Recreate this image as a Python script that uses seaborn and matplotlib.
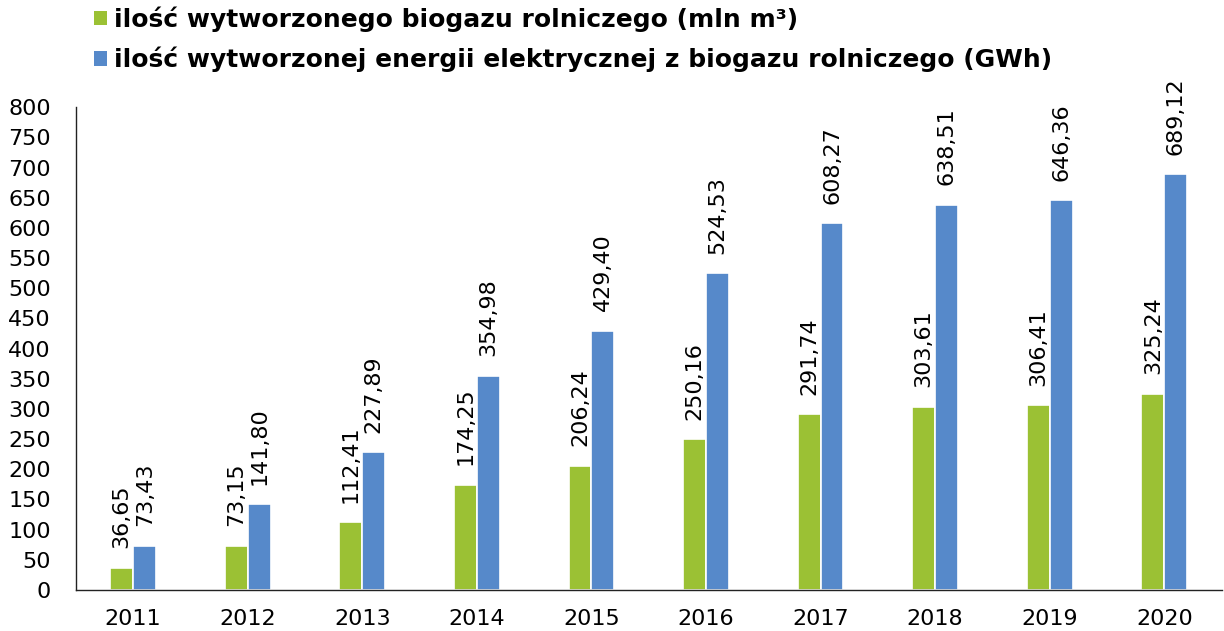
import matplotlib
matplotlib.use("Agg")
import matplotlib.pyplot as plt
from matplotlib.patches import Patch
import seaborn as sns
import pandas as pd
import numpy as np

# ---------------------------------------------------------
# Data
# ---------------------------------------------------------
years = ["2011", "2012", "2013", "2014", "2015", "2016", "2017", "2018", "2019", "2020"]
biogas_mln_m3 = [36.65, 73.15, 112.41, 174.25, 206.24, 250.16, 291.74, 303.61, 306.41, 325.24]
energy_gwh = [73.43, 141.80, 227.89, 354.98, 429.40, 524.53, 608.27, 638.51, 646.36, 689.12]

series_names = [
    "ilość wytworzonego biogazu rolniczego (mln m³)",
    "ilość wytworzonej energii elektrycznej z biogazu rolniczego (GWh)",
]
colors = ["#9BC134", "#5689CA"]

df = pd.DataFrame({
    "year": years * 2,
    "value": biogas_mln_m3 + energy_gwh,
    "series": [series_names[0]] * len(years) + [series_names[1]] * len(years),
})

# ---------------------------------------------------------
# Figure
# ---------------------------------------------------------
sns.set_style("white")
plt.rcParams["font.family"] = ["DejaVu Sans"]
plt.rcParams["text.color"] = "black"
plt.rcParams["xtick.color"] = "black"
plt.rcParams["ytick.color"] = "black"

fig = plt.figure(figsize=(12.24, 6.31), dpi=100)
ax = fig.add_axes([0.062, 0.065, 0.936, 0.765])

sns.barplot(
    data=df, x="year", y="value", hue="series",
    palette=colors, saturation=1, width=0.4, edgecolor="white", linewidth=1.2,
    legend=False, ax=ax,
)

# value labels, rotated, decimal comma
for container in ax.containers:
    for bar in container:
        h = bar.get_height()
        ax.annotate(
            f"{h:.2f}".replace(".", ","),
            xy=(bar.get_x() + bar.get_width() / 2, h),
            xytext=(0, 14), textcoords="offset points",
            rotation=90, ha="center", va="bottom", fontsize=16,
        )

ax.set_ylim(0, 800)
ax.set_xlim(-0.5, len(years) - 0.5)
ax.set_yticks(np.arange(0, 801, 50))
ax.set_xlabel("")
ax.set_ylabel("")

# x ticks between categories
ax.set_xticks(np.arange(len(years)), minor=False)
ax.set_xticks(np.arange(len(years) + 1) - 0.5, minor=True)
ax.tick_params(axis="x", which="major", length=0, labelsize=16, pad=14)
ax.tick_params(axis="x", which="minor", length=6, width=1, direction="out", color="#404040")
ax.tick_params(axis="y", which="major", length=7, width=1, direction="out", color="#8C8C8C",
               labelsize=16, pad=11)

sns.despine(ax=ax, top=True, right=True)
for side in ["left", "bottom"]:
    ax.spines[side].set_color("#222222")
    ax.spines[side].set_linewidth(1)

# legend
handles = [Patch(facecolor=c, edgecolor="none") for c in colors]
fig.legend(
    handles, series_names, loc="upper left", bbox_to_anchor=(0.077, 0.99),
    frameon=False, prop={"weight": "bold", "size": 18},
    handlelength=0.5, handleheight=0.5, handletextpad=0.3,
    labelspacing=0.6, borderpad=0, borderaxespad=0,
)

fig.savefig("out.png", dpi=100)
